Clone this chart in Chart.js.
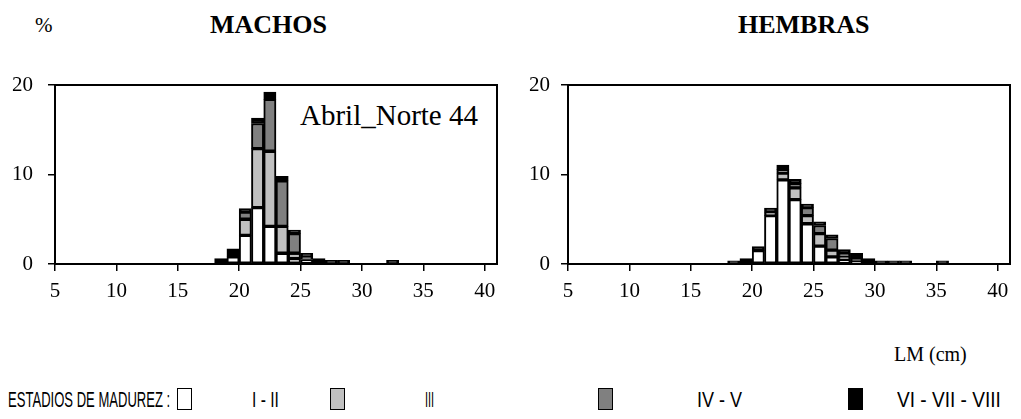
<!DOCTYPE html>
<html lang="es">
<head>
<meta charset="UTF-8" />
<title>Estadios de madurez - Abril Norte 44</title>
<script src="https://cdn.jsdelivr.net/npm/chart.js@4"></script>
<style>
  body { margin: 0; width: 1021px; height: 419px; background: #fff; position: relative; overflow: hidden; }
  canvas { position: absolute; top: 0; }
  .t { position: absolute; font-family: "Liberation Serif", "Times New Roman", serif; color: #000; line-height: 1; white-space: nowrap; }
  .lg { position: absolute; top: 389px; font-family: "Liberation Sans Narrow", "Liberation Sans", Arial, sans-serif; font-size: 22px; line-height: 1; white-space: nowrap; transform-origin: 0 0; }
  .box { position: absolute; top: 388px; width: 15px; height: 22px; border: 1.5px solid #000; box-sizing: border-box; }
</style>
</head>
<body>
<div class="t" style="left:35px; top:15px; font-size:21px;">%</div>
<div class="t" style="left:210px; top:12px; font-size:26px; font-weight:bold;">MACHOS</div>
<div class="t" style="left:738px; top:12px; font-size:26px; font-weight:bold;">HEMBRAS</div>
<div class="t" style="left:300px; top:101px; font-size:29px;">Abril_Norte 44</div>
<div class="t" style="left:894px; top:344px; font-size:20px;">LM (cm)</div>

<canvas id="machos" width="510" height="310" style="left:0px;"></canvas>
<canvas id="hembras" width="510" height="310" style="left:513px;"></canvas>

<div class="lg" data-w="162" style="left:8px;">ESTADIOS DE MADUREZ :</div>
<div class="box" style="left:177px; background:#ffffff;"></div>
<div class="lg" data-w="27" style="left:252px;">I - II</div>
<div class="box" style="left:330px; background:#c0c0c0;"></div>
<div class="lg" data-w="9" style="left:425px;">III</div>
<div class="box" style="left:598px; background:#808080;"></div>
<div class="lg" data-w="45" style="left:697px;">IV - V</div>
<div class="box" style="left:848px; background:#000000;"></div>
<div class="lg" data-w="104" style="left:897px;">VI - VII - VIII</div>

<script>
  // lower edge of each 1 cm length class
  const lengths = [18, 19, 20, 21, 22, 23, 24, 25, 26, 27, 28, 29, 30, 31, 32, 33, 34, 35];
  const xTicks = [5, 10, 15, 20, 25, 30, 35, 40];
  const yTicks = [0, 10, 20];

  // MACHOS, % per length class
  const machosI_II = [0, 0.8, 3.2, 6.3, 4.2, 1.2, 0.6, 0.5, 0, 0, 0, 0, 0, 0, 0, 0, 0, 0];
  const machosIII = [0, 0, 1.8, 6.6, 8.4, 3.0, 0.6, 0, 0, 0, 0, 0, 0, 0, 0, 0, 0, 0];
  const machosIV_V = [0, 0, 0.8, 2.8, 5.8, 5.1, 2.2, 0.3, 0, 0, 0, 0, 0, 0, 0, 0, 0, 0];
  const machosVI_VIII = [0.6, 0.9, 0.4, 0.6, 0.8, 0.5, 0.4, 0.4, 0.6, 0.4, 0.4, 0, 0, 0, 0.4, 0, 0, 0];

  // HEMBRAS, % per length class
  const hembrasI_II = [0, 0, 1.5, 5.4, 9.4, 7.2, 4.5, 2.0, 0.8, 0.45, 0.3, 0, 0, 0, 0, 0, 0, 0];
  const hembrasIII = [0, 0, 0, 0.4, 0.75, 1.3, 0.9, 1.4, 0.75, 0.4, 0, 0, 0, 0, 0, 0, 0, 0];
  const hembrasIV_V = [0, 0, 0, 0, 0.4, 0.5, 0.9, 0.9, 1.3, 0.3, 0.3, 0, 0, 0, 0, 0, 0, 0];
  const hembrasVI_VIII = [0.35, 0.6, 0.45, 0.45, 0.5, 0.45, 0.4, 0.4, 0.4, 0.45, 0.6, 0.6, 0.35, 0.35, 0.35, 0, 0, 0.35];

  const stageNames = ["I - II", "III", "IV - V", "VI - VII - VIII"];
  const stageColors = ["#ffffff", "#c0c0c0", "#808080", "#000000"];

  // frame round the plot area
  const boxPlugin = {
    id: "box",
    afterDraw(chart) {
      const { ctx, chartArea: a } = chart;
      ctx.save();
      ctx.strokeStyle = "#000";
      ctx.lineWidth = 2;
      ctx.strokeRect(a.left, a.top, a.right - a.left, a.bottom - a.top);
      ctx.restore();
    },
  };

  const tickFont = { family: "Liberation Serif", size: 21 };

  function makeChart(id, series, yPad) {
    new Chart(document.getElementById(id), {
      type: "bar",
      data: {
        datasets: series.map((vals, i) => ({
          label: stageNames[i],
          data: lengths.map((l, j) => ({ x: l + 0.5, y: vals[j] || null })),
          backgroundColor: stageColors[i],
          borderColor: "#000",
          borderWidth: 2,
          borderSkipped: false,
          barPercentage: 1,
          categoryPercentage: 1,
        })),
      },
      options: {
        responsive: false,
        animation: false,
        layout: { padding: { top: 85, right: 13, left: 0, bottom: 0 } },
        plugins: { legend: { display: false }, tooltip: { enabled: false } },
        scales: {
          x: {
            type: "linear",
            min: 5,
            max: 41,
            offset: false,
            stacked: true,
            afterBuildTicks: (s) => { s.ticks = xTicks.map((v) => ({ value: v })); },
            afterFit: (s) => { s.height = 46; },
            grid: { offset: false, drawOnChartArea: false, drawTicks: true, tickLength: 7, color: "#000", lineWidth: 1.5 },
            border: { display: false },
            ticks: { color: "#000", font: tickFont, padding: 8, maxRotation: 0, autoSkip: false },
          },
          y: {
            min: 0,
            max: 20,
            stacked: true,
            afterBuildTicks: (s) => { s.ticks = yTicks.map((v) => ({ value: v })); },
            afterFit: (s) => { s.width = 55; },
            grid: { drawOnChartArea: false, drawTicks: true, tickLength: 7, color: "#000", lineWidth: 1.5 },
            border: { display: false },
            ticks: { color: "#000", font: tickFont, padding: yPad },
          },
        },
      },
      plugins: [boxPlugin],
    });
  }

  makeChart("machos", [machosI_II, machosIII, machosIV_V, machosVI_VIII], 15);
  makeChart("hembras", [hembrasI_II, hembrasIII, hembrasIV_V, hembrasVI_VIII], 11);

  // squeeze the legend text to the narrow face of the original
  document.querySelectorAll(".lg").forEach((el) => {
    const w = +el.dataset.w;
    el.style.transform = `scaleX(${w / el.offsetWidth})`;
  });
</script>
</body>
</html>
